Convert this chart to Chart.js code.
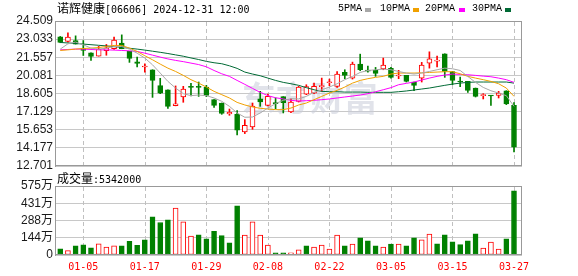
<!DOCTYPE html>
<html><head><meta charset="utf-8">
<script src="https://cdn.jsdelivr.net/npm/chart.js@4/dist/chart.umd.min.js"></script>
<style>
html,body{margin:0;padding:0;background:#fff;width:578px;height:276px;overflow:hidden;position:relative}
canvas{position:absolute;left:0}
#main{top:0}
#vol{top:170px}
.t{position:absolute;white-space:nowrap;color:#000;line-height:14px}
.cjk{font-family:"Noto Sans CJK SC",sans-serif;font-size:12px}
.mono{font-family:"DejaVu Sans Mono",monospace;font-size:10px}
.serif{font-family:"Liberation Mono",monospace;font-size:10px}
.sq{position:absolute;width:6px;height:4px}
</style></head><body>
<canvas id="main" width="578" height="180"></canvas>
<canvas id="vol" width="578" height="106"></canvas>
<div class="t" style="left:57px;top:1px"><span class="cjk">诺辉健康</span><span class="mono">[06606] 2024-12-31 12:00</span></div>
<div class="t serif" style="left:338px;top:2px">5PMA</div><div class="sq" style="left:365px;top:8px;background:#a8a8a8"></div>
<div class="t serif" style="left:380px;top:2px">10PMA</div><div class="sq" style="left:413px;top:8px;background:#f0a000"></div>
<div class="t serif" style="left:425px;top:2px">20PMA</div><div class="sq" style="left:459px;top:8px;background:#ff00ff"></div>
<div class="t serif" style="left:472px;top:2px">30PMA</div><div class="sq" style="left:505px;top:8px;background:#006a35"></div>
<div class="t" style="left:57px;top:171px"><span class="cjk">成交量</span><span class="mono">:5342000</span></div>
<script>
// ---- data ----
const dates = ['01-02','01-03','01-04','01-05','01-08','01-09','01-10','01-11','01-12','01-15','01-16','01-17','01-18','01-19','01-22','01-23','01-24','01-25','01-26','01-29','01-30','01-31',
 '02-01','02-02','02-05','02-06','02-07','02-08','02-09','02-14','02-15','02-16','02-19','02-20','02-21','02-22','02-23','02-26','02-27','02-28','02-29',
 '03-01','03-04','03-05','03-06','03-07','03-08','03-11','03-12','03-13','03-14','03-15','03-18','03-19','03-20','03-21','03-22','03-25','03-26','03-27'];
const openP  = [23.22,22.84,22.92,22.27,21.92,21.65,22.10,22.25,22.71,22.03,21.19,20.76,20.54,19.24,18.91,17.62,18.32,19.15,19.15,19.13,18.10,17.83,16.94,16.91,15.47,15.88,18.18,17.64,17.82,18.35,17.10,17.97,18.56,18.64,19.16,19.48,19.19,20.32,19.86,21.00,20.49,20.49,20.61,20.65,20.03,20.08,19.54,19.86,21.08,21.24,21.84,20.40,19.62,19.59,19.05,18.43,18.45,18.45,18.83,17.64];
const highP  = [23.25,23.55,23.30,22.92,21.92,22.44,22.60,23.19,23.38,22.03,21.57,21.03,20.54,19.84,18.91,19.22,19.19,19.43,19.54,19.27,18.10,17.83,17.34,17.21,16.48,17.83,18.78,18.56,18.25,18.35,18.18,19.19,19.32,19.46,19.86,19.78,20.40,20.54,21.16,21.81,20.84,20.73,21.49,20.73,20.49,20.08,19.54,21.14,22.00,21.65,21.84,20.40,19.94,19.59,19.05,18.59,18.45,18.78,18.83,17.86];
const lowP   = [22.74,22.79,22.63,21.70,21.30,21.65,21.72,22.19,22.25,21.14,20.76,20.35,18.29,18.59,17.40,17.60,17.89,18.40,18.37,18.35,17.48,16.91,16.83,15.23,15.34,15.69,17.56,17.59,17.35,17.02,17.05,17.91,18.51,18.59,18.78,19.24,19.10,19.81,19.78,20.46,20.35,20.00,20.54,19.86,19.81,19.54,18.83,19.54,20.67,20.76,19.92,19.32,19.16,18.70,18.32,18.16,17.64,18.24,17.70,13.85];
const closeP = [22.76,23.19,22.63,22.11,21.62,22.22,22.32,22.95,22.25,21.46,21.05,20.81,19.67,18.64,17.56,17.77,18.97,19.10,19.10,18.45,17.64,16.99,17.07,15.61,16.02,17.59,17.91,18.37,17.78,17.86,17.91,19.13,19.16,19.19,19.21,19.54,20.19,20.08,21.00,20.54,20.43,20.24,20.92,19.92,20.11,19.59,19.27,20.92,21.43,21.30,20.40,19.67,19.54,18.86,18.37,18.48,18.40,18.64,17.75,14.23];
const ma5  = [22.22,22.65,22.79,22.57,22.30,22.22,22.30,22.43,22.43,22.22,21.89,21.49,20.94,20.27,19.59,19.05,18.59,18.43,18.48,18.43,18.24,17.97,17.56,17.02,16.67,16.69,17.02,17.42,17.78,18.05,18.18,18.16,18.37,18.70,18.91,19.13,19.40,19.73,20.00,20.32,20.48,20.54,20.59,20.54,20.40,20.27,20.19,20.27,20.40,20.54,20.67,20.62,20.48,19.99,19.51,19.10,18.83,18.64,18.43,17.56];
const ma10 = [22.11,22.16,22.22,22.27,22.30,22.35,22.43,22.52,22.52,22.30,22.03,21.68,21.35,21.00,20.67,20.40,20.08,19.73,19.45,19.13,18.78,18.51,18.24,17.88,17.67,17.51,17.40,17.34,17.29,17.29,17.42,17.67,17.83,18.10,18.37,18.64,18.86,19.13,19.45,19.67,19.81,19.92,20.00,20.19,20.27,20.27,20.27,20.29,20.32,20.35,20.38,20.38,20.21,20.00,19.86,19.73,19.59,19.40,19.05,18.37];
const ma20 = [22.16,22.19,22.22,22.22,22.19,22.16,22.16,22.14,22.11,22.08,22.03,21.89,21.73,21.57,21.42,21.30,21.20,21.08,20.96,20.78,20.48,20.21,20.00,19.67,19.35,19.02,18.70,18.43,18.26,18.16,18.05,17.99,18.02,18.05,18.10,18.16,18.24,18.32,18.40,18.48,18.59,18.75,18.91,19.08,19.32,19.43,19.54,19.70,19.86,20.00,20.11,20.19,20.16,20.13,20.08,20.02,19.97,19.86,19.73,19.51];
const ma30 = [22.76,22.72,22.68,22.63,22.58,22.53,22.48,22.42,22.36,22.29,22.22,22.14,22.05,21.96,21.86,21.75,21.64,21.50,21.37,21.22,21.11,21.03,20.86,20.65,20.35,20.19,20.05,19.86,19.67,19.51,19.40,19.27,19.08,18.91,18.78,18.75,18.75,18.72,18.72,18.72,18.70,18.70,18.70,18.70,18.75,18.81,18.89,18.97,19.05,19.16,19.27,19.37,19.45,19.51,19.54,19.54,19.54,19.54,19.54,19.45];
const volume = [52,36,77,85,60,94,66,77,77,113,80,127,318,271,293,390,276,158,168,135,197,161,102,409,166,277,166,83,19,19,19,44,77,66,83,50,166,77,91,144,119,77,66,91,91,77,144,127,174,94,168,110,86,119,177,58,108,50,135,534.2]; // 万股
const volUp = [0,1,0,0,0,1,1,1,0,0,0,0,0,0,0,1,1,1,0,0,0,0,0,0,1,1,1,1,0,0,1,1,0,1,1,1,1,0,1,0,0,0,1,0,1,0,0,1,1,0,0,0,0,0,0,1,1,1,0,0];
const priceTicks = [12.701,14.177,15.653,17.129,18.605,20.081,21.557,23.033,24.509];
const volTicks = [0,143.75,287.5,431.25,575];
const volTickLabels = ['0','144万','288万','431万','575万'];
const dateTickIdx = [3,11,19,27,35,43,51,59];

// ---- styles ----
const RED = '#ff0000', GREEN = '#008000';
const up = closeP.map((c,i)=> c >= openP[i]);
const XMIN = -0.68, XMAX = 60.04;

const framePlugin = { id:'frame', afterDraw(chart){
  const {ctx, chartArea:a} = chart; ctx.save(); ctx.strokeStyle='#999'; ctx.lineWidth=1;
  ctx.strokeRect(Math.round(a.left)+0.5, Math.round(a.top)+0.5, Math.round(a.right-a.left)-1, Math.round(a.bottom-a.top)-1);
  ctx.restore(); } };
// dashed vertical grid at the x-scale's date ticks
const vGrid = { id:'vgrid', beforeDatasetsDraw(chart){
  const {ctx, chartArea:a, scales} = chart; ctx.save();
  ctx.strokeStyle = '#c0c0c0'; ctx.lineWidth = 1; ctx.setLineDash([4,3]);
  scales.x.ticks.forEach(t => {
    const px = Math.round(scales.x.getPixelForValue(t.value)) + 0.5;
    ctx.beginPath(); ctx.moveTo(px, a.top + 1); ctx.lineTo(px, a.bottom); ctx.stroke();
  });
  ctx.restore(); } };
const watermark = { id:'wm', beforeDatasetsDraw(chart){
  const {ctx, chartArea:a} = chart; ctx.save();
  ctx.font = 'bold 34px "Noto Sans CJK SC"'; ctx.fillStyle = 'rgba(200,204,216,0.55)';
  ctx.textBaseline = 'middle'; ctx.textAlign = 'left';
  ctx.fillText('东方财富', a.left + 0.40*(a.right-a.left), a.top + 0.53*(a.bottom-a.top));
  ctx.restore(); } };

function xAxis(showLabels){
  return { type:'linear', min:XMIN, max:XMAX, offset:false,
    afterBuildTicks: s => { s.ticks = dateTickIdx.map(v=>({value:v})); },
    afterFit: s => { s.height = showLabels ? 21 : 14; },
    ticks:{ display:showLabels, callback:(v)=>dates[v], color:RED, padding:6, maxRotation:0, autoSkip:false,
      font:{family:'DejaVu Sans Mono', size:10} },
    grid:{ display:false, offset:false, drawTicks:false },
    border:{ display:false } };
}
function yAxis(min, max, ticks, labels){
  return { type:'linear', min, max,
    afterBuildTicks: s => { s.ticks = ticks.map(v=>({value:v})); },
    afterFit: s => { s.width = 55; },
    ticks:{ callback:(v,i)=>labels[i], color:'#1a1a1a', padding:2, autoSkip:false,
      font:{family:'"Liberation Sans", "Noto Sans CJK SC"', size:12} },
    grid:{ color:'#c8c8c8', drawTicks:false },
    border:{ display:true, color:'#999' } };
}
const common = { responsive:false, animation:false, events:[], devicePixelRatio:1,
  plugins:{ legend:{display:false}, tooltip:{enabled:false} } };

const idx = dates.map((d,i)=>i);
function line(arr, color){ return { type:'line', data: idx.map(i=>({x:i, y:arr[i]})), borderColor:color, borderWidth:1,
  pointRadius:0, fill:false, tension:0, order:0 }; }

new Chart(document.getElementById('main'), {
  data:{ datasets:[
    { type:'bar', data: idx.map(i=>({x:i, y:[lowP[i], highP[i]]})), barThickness:1, grouped:false, order:2,
      backgroundColor: idx.map(i=> up[i] ? RED : GREEN), borderWidth:0 },
    { type:'bar', data: idx.map(i=>({x:i, y:[openP[i], closeP[i]]})), barThickness:5, grouped:false, order:1, minBarLength:1,
      backgroundColor: idx.map(i=> up[i] ? '#ffffff' : GREEN), borderColor: idx.map(i=> up[i] ? RED : GREEN),
      borderWidth:1, borderSkipped:false },
    line(ma5,'#a8a8a8'), line(ma10,'#f0a000'), line(ma20,'#ff00ff'), line(ma30,'#006a35')
  ]},
  options:{ ...common, layout:{padding:{left:0, right:56, top:21, bottom:0}},
    scales:{ x: xAxis(false), y: yAxis(12.701, 24.509, priceTicks, priceTicks.map(v=>v.toFixed(3))) } },
  plugins:[vGrid, watermark, framePlugin]
});

new Chart(document.getElementById('vol'), {
  data:{ datasets:[
    { type:'bar', data: idx.map(i=>({x:i, y:volume[i]})), barThickness:5, grouped:false,
      backgroundColor: idx.map(i=> volUp[i] ? '#ffffff' : GREEN), borderColor: idx.map(i=> volUp[i] ? RED : GREEN),
      borderWidth:1, borderSkipped:false }
  ]},
  options:{ ...common, layout:{padding:{left:0, right:56, top:16, bottom:0}},
    scales:{ x: xAxis(true), y: yAxis(0, 575, volTicks, volTickLabels) } },
  plugins:[vGrid, framePlugin]
});
</script>
</body></html>
